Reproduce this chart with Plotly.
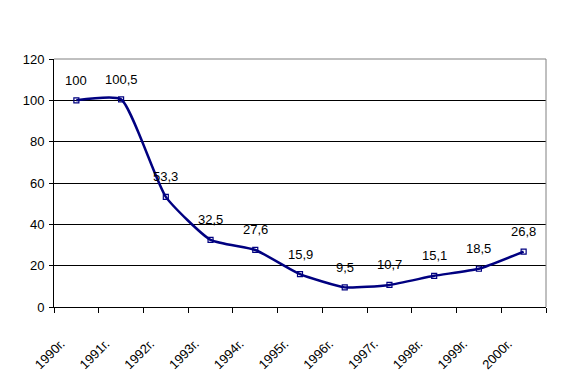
import plotly.graph_objects as go

years = ["1990г.", "1991г.", "1992г.", "1993г.", "1994г.", "1995г.",
         "1996г.", "1997г.", "1998г.", "1999г.", "2000г."]
values = [100, 100.5, 53.3, 32.5, 27.6, 15.9, 9.5, 10.7, 15.1, 18.5, 26.8]
value_labels = ["100", "100,5", "53,3", "32,5", "27,6", "15,9", "9,5", "10,7", "15,1", "18,5", "26,8"]

xs = list(range(len(years)))
tickvals = [i - 0.5 for i in range(len(years) + 1)]
ticktext = years + [""]

FONT = "Liberation Sans, Arial"

fig = go.Figure()
fig.add_trace(go.Scatter(
    x=xs, y=values, mode="lines+markers",
    line=dict(color="#000080", width=2.5, shape="spline", smoothing=0.5),
    marker=dict(symbol="square-open", size=5, color="#000080", line=dict(width=1.2)),
    hoverinfo="skip", showlegend=False,
))

for x, y, t in zip(xs, values, value_labels):
    fig.add_annotation(x=x, y=y, text=t, showarrow=False, yshift=20,
                       font=dict(family=FONT, size=13, color="black"))

fig.update_layout(
    width=558, height=376,
    margin=dict(l=46, r=20, t=51, b=77),
    paper_bgcolor="white", plot_bgcolor="white",
    font=dict(family=FONT, size=13, color="black"),
    xaxis=dict(
        range=[-0.5, 10.5], tickmode="array", tickvals=tickvals, ticktext=ticktext,
        tickangle=-45, ticks="outside", ticklen=5, tickcolor="black",
        showgrid=False, zeroline=False, showline=True, linecolor="black", linewidth=1,
        ticklabelstandoff=18, ticklabelshift=7, automargin=False,
    ),
    yaxis=dict(
        range=[0, 120], dtick=20, ticks="outside", ticklen=4, tickcolor="black",
        showgrid=True, gridcolor="black", gridwidth=1, zeroline=False,
        showline=True, linecolor="black", linewidth=1, automargin=False,
        ticklabelstandoff=2,
    ),
    shapes=[
        dict(type="line", xref="paper", yref="paper", x0=0, x1=1, y0=1, y1=1,
             line=dict(color="#808080", width=1)),
        dict(type="line", xref="paper", yref="paper", x0=1, x1=1, y0=0, y1=1,
             line=dict(color="#808080", width=1)),
    ],
)

fig.write_html("out.html")
